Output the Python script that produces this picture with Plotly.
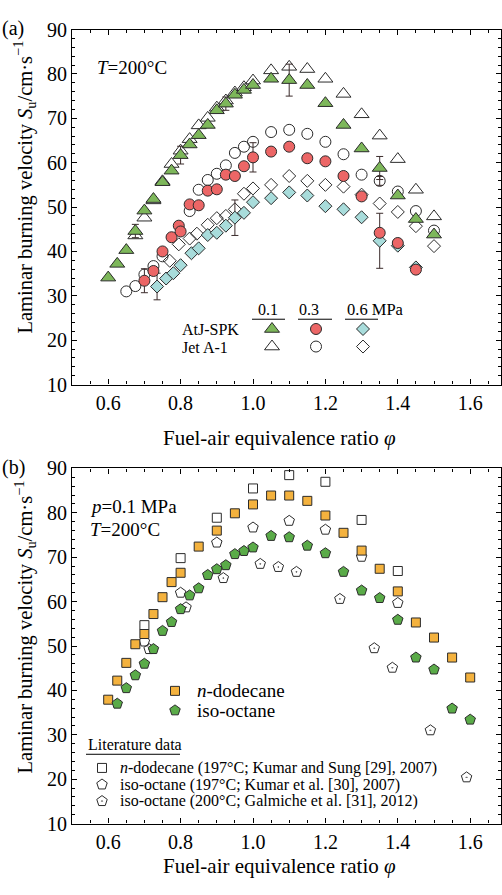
import plotly.graph_objects as go

# ---------------- Panel (a) data ----------------
atj01_phi = [0.60, 0.625, 0.65, 0.675, 0.70, 0.725, 0.75, 0.775, 0.80, 0.825, 0.85, 0.875, 0.90, 0.925,
             0.95, 0.975, 1.00, 1.05, 1.10, 1.15, 1.20, 1.25, 1.30, 1.35, 1.40, 1.45, 1.50]
atj01_su = [34.1, 37.2, 40.3, 44.6, 49.2, 51.8, 55.6, 58.2, 61.7, 64.1, 66.2, 68.5, 71.8, 73.3,
            75.3, 76.4, 77.5, 78.9, 78.6, 77.5, 73.4, 68.5, 63.2, 58.8, 52.6, 47.3, 43.8]
atj01_err = [0, 0, 0, 1.5, 0, 0, 0, 0, 2.0, 0, 0, 0, 0, 1.5,
             0, 0, 0, 0, 3.6, 0, 0, 0, 0, 2.6, 0, 0, 0]

jet01_phi = [0.675, 0.70, 0.725, 0.75, 0.775, 0.80, 0.825, 0.85, 0.875, 0.90, 0.925, 0.95, 0.975,
             1.00, 1.05, 1.10, 1.15, 1.20, 1.25, 1.30, 1.35, 1.40, 1.45, 1.50]
jet01_su = [43.6, 47.6, 51.5, 55.8, 59.7, 62.7, 65.3, 68.4, 70.1, 72.4, 74.0, 75.8, 77.0,
            78.5, 80.8, 81.6, 81.1, 78.9, 75.5, 70.9, 66.1, 60.8, 53.9, 47.9]

atj03_phi = [0.70, 0.725, 0.75, 0.775, 0.795, 0.80, 0.825, 0.85, 0.875, 0.90, 0.925, 0.95, 0.975,
             1.00, 1.05, 1.10, 1.15, 1.20, 1.25, 1.30, 1.35, 1.40, 1.45]
atj03_su = [33.4, 35.6, 40.0, 43.2, 45.8, 44.5, 50.6, 50.4, 53.7, 54.0, 57.3, 57.0, 59.2,
            61.2, 62.5, 63.6, 61.0, 60.3, 57.0, 52.4, 44.2, 41.9, 35.9]
atj03_err = [2.7, 0, 0, 0, 0, 0, 0, 0, 0, 0, 0, 0, 0,
             3.3, 0, 0, 0, 0, 0, 0, 0, 0, 0]

jet03_phi = [0.65, 0.675, 0.70, 0.725, 0.75, 0.825, 0.85, 0.875, 0.90, 0.925, 0.95, 0.975, 1.00,
             1.05, 1.10, 1.15, 1.20, 1.25, 1.30, 1.35, 1.40, 1.45, 1.50]
jet03_su = [31.0, 32.2, 34.8, 36.7, 38.9, 49.1, 53.9, 56.1, 57.5, 59.4, 62.2, 63.6, 64.7,
            66.9, 67.4, 66.5, 64.7, 61.9, 57.3, 55.9, 53.5, 49.1, 44.7]
jet03_err = [0, 0, 0, 0, 0, 0, 0, 0, 0, 0, 0, 0, 0,
             0, 0, 0, 0, 0, 0, 1.0, 0, 0, 0]

atj06_phi = [0.735, 0.76, 0.78, 0.80, 0.83, 0.85, 0.875, 0.90, 0.925, 0.95, 0.975, 1.00, 1.05,
             1.10, 1.15, 1.20, 1.25, 1.30, 1.35, 1.40, 1.45]
atj06_su = [32.1, 33.9, 35.1, 36.9, 39.6, 40.7, 43.7, 44.2, 45.8, 47.6, 48.7, 51.1, 52.0,
            53.3, 52.6, 50.2, 49.5, 47.7, 42.4, 41.3, 36.4]
atj06_err = [3.0, 0, 0, 0, 0, 0, 0, 0, 0, 4.0, 0, 0, 0,
             0, 0, 0, 0, 0, 6.2, 0, 0]

jet06_phi = [0.77, 0.795, 0.825, 0.845, 0.875, 0.90, 0.925, 0.95, 0.975, 1.00, 1.05, 1.10, 1.15,
             1.20, 1.25, 1.30, 1.35, 1.40, 1.45, 1.50]
jet06_su = [37.9, 41.6, 42.9, 44.0, 46.0, 47.5, 48.0, 49.5, 53.0, 54.2, 55.0, 57.0, 55.9,
            55.0, 54.6, 52.8, 50.8, 48.9, 45.7, 41.2]

# ---------------- Panel (b) data ----------------
ndod_phi = [0.60, 0.625, 0.65, 0.675, 0.70, 0.725, 0.75, 0.775, 0.80, 0.85, 0.90, 0.95, 1.00, 1.05,
            1.10, 1.15, 1.20, 1.25, 1.30, 1.35, 1.40, 1.45, 1.50, 1.55, 1.60]
ndod_su = [37.9, 42.2, 46.2, 50.4, 52.7, 57.2, 61.0, 64.4, 66.5, 72.4, 76.0, 79.9, 81.9, 83.9,
           83.9, 82.7, 79.4, 75.5, 71.5, 67.4, 62.3, 55.3, 51.9, 47.4, 42.9]

iso_phi = [0.625, 0.65, 0.675, 0.70, 0.725, 0.75, 0.775, 0.80, 0.825, 0.85, 0.875, 0.90, 0.925, 0.95,
           0.975, 1.00, 1.05, 1.10, 1.15, 1.20, 1.25, 1.30, 1.35, 1.40, 1.45, 1.50, 1.55, 1.60]
iso_su = [37.0, 40.5, 43.4, 46.0, 49.3, 53.4, 55.4, 58.3, 61.4, 63.0, 66.0, 67.3, 68.2, 70.7,
          71.4, 72.2, 74.8, 74.5, 72.6, 70.9, 66.7, 62.5, 60.8, 55.9, 47.4, 44.7, 35.9, 33.4]

kumar_ndod_phi = [0.70, 0.80, 0.90, 1.00, 1.10, 1.20, 1.30, 1.40]
kumar_ndod_su = [54.7, 69.8, 78.9, 85.5, 88.5, 87.0, 78.4, 66.9]

kumar_iso_phi = [0.70, 0.80, 0.90, 1.00, 1.10, 1.20, 1.30, 1.40]
kumar_iso_su = [51.0, 62.0, 73.3, 76.7, 78.2, 76.2, 70.1, 59.7]

galm_iso_phi = [0.713, 0.815, 0.918, 1.02, 1.07, 1.12, 1.24, 1.335, 1.385, 1.49, 1.59]
galm_iso_su = [49.3, 58.7, 65.3, 68.5, 67.8, 66.7, 60.6, 49.5, 45.1, 31.0, 20.4]

x_ticks = [0.6, 0.8, 1.0, 1.2, 1.4, 1.6]
y_ticks = [10, 20, 30, 40, 50, 60, 70, 80, 90]

# ---------------- styles ----------------
FONT = "Liberation Serif"
W, H = 502, 895
EDGE = "#2b2b2b"
GREEN_T = "#7db75a"
RED_C = "#ec6666"
CYAN_D = "#a8dcdb"
ORANGE_S = "#f4b23e"
GREEN_P = "#5aab48"
ERRC = "#3b2b2b"

fig = go.Figure()


def add_series(x, y, xa, ya, symbol, size, fill, open_=False):
    if open_:
        marker = dict(symbol=symbol, size=size, color=EDGE, line=dict(width=1, color=EDGE))
    else:
        marker = dict(symbol=symbol, size=size, color=fill, line=dict(width=1, color=EDGE))
    fig.add_trace(go.Scatter(x=x, y=y, mode="markers", marker=marker, xaxis=xa, yaxis=ya,
                             showlegend=False, hoverinfo="skip"))


def add_err(x, y, e, xa, ya):
    idx = [i for i, v in enumerate(e) if v]
    fig.add_trace(go.Scatter(x=[x[i] for i in idx], y=[y[i] for i in idx], mode="markers",
                             marker=dict(size=1, opacity=0), xaxis=xa, yaxis=ya,
                             error_y=dict(type="data", array=[e[i] for i in idx], color=ERRC,
                                          thickness=1, width=3.5),
                             showlegend=False, hoverinfo="skip"))


# Panel (a): open first, then filled
add_series(jet01_phi, jet01_su, "x", "y", "triangle-up-open", 13, None, True)
add_series(jet03_phi, jet03_su, "x", "y", "circle-open", 11, None, True)
add_series(jet06_phi, jet06_su, "x", "y", "diamond-open", 10, None, True)
add_err(jet03_phi, jet03_su, jet03_err, "x", "y")
add_err(atj01_phi, atj01_su, atj01_err, "x", "y")
add_err(atj03_phi, atj03_su, atj03_err, "x", "y")
add_err(atj06_phi, atj06_su, atj06_err, "x", "y")
add_series(atj06_phi, atj06_su, "x", "y", "diamond", 10, CYAN_D)
add_series(atj03_phi, atj03_su, "x", "y", "circle", 11, RED_C)
add_series(atj01_phi, atj01_su, "x", "y", "triangle-up", 13, GREEN_T)

# Panel (b)
add_series(kumar_ndod_phi, kumar_ndod_su, "x2", "y2", "square-open", 9, None, True)
add_series(kumar_iso_phi, kumar_iso_su, "x2", "y2", "pentagon-open", 11, None, True)
add_series(galm_iso_phi, galm_iso_su, "x2", "y2", "pentagon-open-dot", 11, None, True)
add_series(ndod_phi, ndod_su, "x2", "y2", "square", 9, ORANGE_S)
add_series(iso_phi, iso_su, "x2", "y2", "pentagon", 11, GREEN_P)

# ---------------- legend keys (overlay pixel axes) ----------------
def key(px, py, symbol, size, fill, open_=False):
    add_series([px], [py], "x3", "y3", symbol, size, fill, open_)


key(272, 326, "triangle-up", 13, GREEN_T)
key(316, 326, "circle", 11, RED_C)
key(363, 326, "diamond", 10, CYAN_D)
key(272, 344, "triangle-up-open", 13, None, True)
key(316, 344, "circle-open", 11, None, True)
key(363, 344, "diamond-open", 10, None, True)

key(175, 697, "square", 9, ORANGE_S)
key(175, 717, "pentagon", 11, GREEN_P)
key(102, 776, "square-open", 9, None, True)
key(102, 793, "pentagon-open", 11, None, True)
key(102, 810, "pentagon-open-dot", 11, None, True)

# ---------------- axes ----------------
X0, X1 = 72, 501
ya_top, ya_bot = 19, 383
yb_top, yb_bot = 469, 833
xdom = [X0 / W, X1 / W]
xrange_ = [0.5, 0.5 + (X1 - X0) / 362.0]

common = dict(showline=True, linecolor="black", linewidth=1.2, mirror="ticks",
              ticks="inside", ticklen=5, tickwidth=1, tickcolor="black",
              showgrid=False, zeroline=False,
              tickfont=dict(family=FONT, size=20, color="black"))

xax = dict(common, range=xrange_, tickvals=x_ticks, ticktext=[f"{v:.1f}" for v in x_ticks],
           domain=xdom,
           minor=dict(dtick=0.05, tick0=0.5, ticks="inside", ticklen=3, tickcolor="black",
                      showgrid=False))
yax = dict(common, range=[10, 90], tickvals=y_ticks,
           minor=dict(dtick=2, tick0=10, ticks="inside", ticklen=3, tickcolor="black",
                      showgrid=False))

fig.update_layout(
    width=W, height=H,
    margin=dict(l=0, r=0, t=0, b=0),
    paper_bgcolor="white", plot_bgcolor="rgba(0,0,0,0)",
    showlegend=False,
    xaxis=dict(xax, anchor="y"),
    yaxis=dict(yax, anchor="x", domain=[(H - ya_bot) / H, (H - ya_top) / H]),
    xaxis2=dict(xax, anchor="y2"),
    yaxis2=dict(yax, anchor="x2", domain=[(H - yb_bot) / H, (H - yb_top) / H]),
    xaxis3=dict(domain=[0, 1], range=[0, W], visible=False, anchor="y3", fixedrange=True),
    yaxis3=dict(domain=[0, 1], range=[H, 0], visible=False, anchor="x3", fixedrange=True),
)

# ---------------- text ----------------
def txt(x, y, s, size=19, xanchor="center", angle=0):
    fig.add_annotation(x=x, y=y, xref="x3", yref="y3", text=s, showarrow=False,
                       xanchor=xanchor, yanchor="middle", textangle=angle,
                       font=dict(family=FONT, size=size, color="black"))


ytitle = "Laminar burning velocity <i>S</i><sub>u</sub>/cm·s<sup>−1</sup>"
xtitle = "Fuel-air equivalence ratio <i>φ</i>"

txt(13, 18, "(a)", size=20)
txt(13, 468, "(b)", size=20)
txt(25, 181, ytitle, size=20.5, angle=-90)
txt(25, 632, ytitle, size=20.5, angle=-90)
txt(279, 438, xtitle, size=21)
txt(279, 877, xtitle, size=21)

txt(95, 58, "<i>T</i>=200°C", size=19, xanchor="left")
txt(88, 508, "<i>p</i>=0.1 MPa", size=19, xanchor="left")
txt(88, 532, "<i>T</i>=200°C", size=19, xanchor="left")

# legend (a)
txt(268, 306, "0.1", size=16)
txt(309, 306, "0.3", size=16)
txt(345, 306, "0.6 MPa", size=16.5, xanchor="left")
txt(180, 327, "AtJ-SPK", size=16, xanchor="left")
txt(180, 345, "Jet A-1", size=16, xanchor="left")
for a, b in [(252, 285), (298, 332), (345, 378)]:
    fig.add_shape(type="line", xref="x3", yref="y3", x0=a, x1=b, y0=316, y1=316,
                  line=dict(color="black", width=1))

# legend (b)
txt(195, 697, "<i>n</i>-dodecane", size=19, xanchor="left")
txt(195, 717, "iso-octane", size=19, xanchor="left")
txt(86, 752, "Literature data", size=16, xanchor="left")
fig.add_shape(type="line", xref="x3", yref="y3", x0=86, x1=180, y0=762, y1=762,
              line=dict(color="black", width=1))
txt(118, 776, "<i>n</i>-dodecane (197°C; Kumar and Sung [29], 2007)", size=16, xanchor="left")
txt(118, 793, "iso-octane (197°C; Kumar et al. [30], 2007)", size=16, xanchor="left")
txt(118, 810, "iso-octane (200°C; Galmiche et al. [31], 2012)", size=16, xanchor="left")

fig.write_html("out.html")
